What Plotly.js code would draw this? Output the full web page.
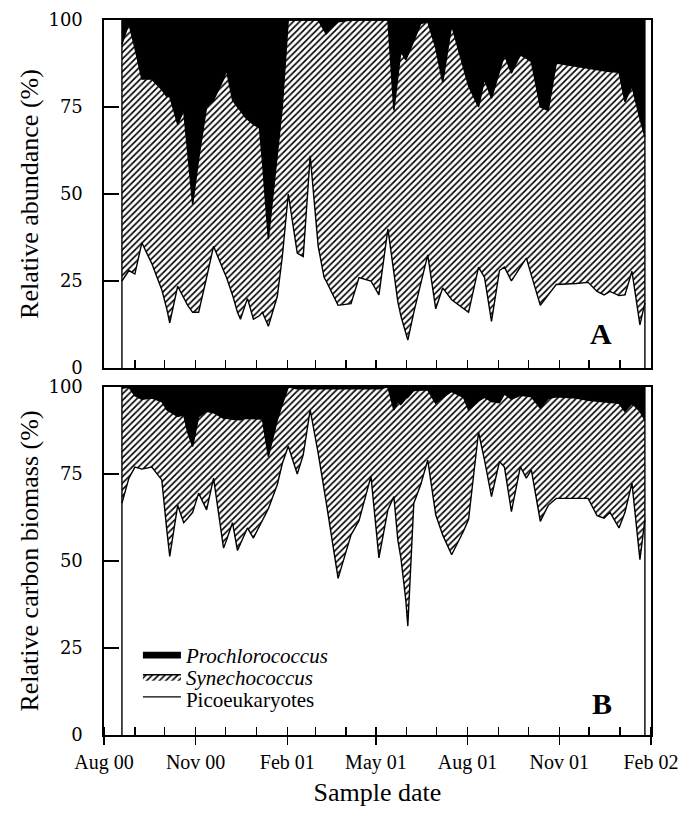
<!DOCTYPE html>
<html>
<head>
<meta charset="utf-8">
<script src="https://cdn.plot.ly/plotly-3.0.1.min.js"></script>
<style>html,body{margin:0;padding:0;background:#fff;}#chart{width:678px;height:814px;}</style>
</head>
<body>
<div id="chart"></div>
<script>
// Sample dates (shared by both panels)
const sampleDates = [
 '2000-08-19','2000-08-26','2000-09-01','2000-09-08','2000-09-18','2000-09-28','2000-10-03','2000-10-06','2000-10-14','2000-10-20',
 '2000-10-24','2000-10-29','2000-11-04','2000-11-12','2000-11-19','2000-11-29','2000-12-02','2000-12-08','2000-12-13','2000-12-16',
 '2000-12-21','2000-12-23','2000-12-29','2001-01-04','2001-01-07','2001-01-13','2001-01-22','2001-01-27','2001-02-02','2001-02-11',
 '2001-02-17','2001-02-24','2001-03-04','2001-03-10','2001-03-12','2001-03-24','2001-04-06','2001-04-14','2001-04-26','2001-05-04',
 '2001-05-13','2001-05-19','2001-05-23','2001-05-26','2001-05-31','2001-06-02','2001-06-08','2001-06-15','2001-06-22','2001-06-30',
 '2001-07-07','2001-07-16','2001-07-28','2001-08-02','2001-08-12','2001-08-18','2001-08-25','2001-09-02','2001-09-07','2001-09-14',
 '2001-09-23','2001-09-29','2001-10-04','2001-10-13','2001-10-21','2001-10-29','2001-11-18','2001-11-30','2001-12-09','2001-12-16',
 '2001-12-22','2001-12-31','2002-01-06','2002-01-13','2002-01-21','2002-01-26'
];

// Panel A: relative abundance (%)
const picoA = [25,28,27,36,30,22.5,17,13,23.5,20, 18,16,16,26,35,28,26,21,16,14, 18,20,14,15,16,12,20.6,32,50,33,
 32,61,35,26,25,18,18.5,26,25,21, 40,27,19,15,10,8,16,24,32.5,17, 23,19.6,17,16,29,26,13.4,28,29,25,
 29,31.6,26.7,18,21,24,24.3,24.6,22,21, 22,20.8,21,27.8,12.4,18.7];
const synA = [68,71,65,47,53,57.5,61,65,46.5,54, 44,31,44,49,42,55,59.6,56,59,60, 54,51.5,56,54,43.5,25,40,43,50,67,
 68,39,65,71,71,81.5,81.5,74,75,79, 60,47,64,76,78.5,82,78,75,67,75, 59,78.9,69,65,46,57,64.1,57,61,59.7,
 61,57.4,61.3,57,53,63.6,62.3,61.4,63.7,64.4, 63.2,64.2,55.5,53.2,59.2,47.8];
const proA = [7,1,8,17,17,20,22,22,30,26, 38,53,40,25,23,17,14.4,23,25,26, 28,28.5,30,31,40.5,63,39.4,25,0,0,
 0,0,0,3,4,0.5,0,0,0,0, 0,26,17,9,11.5,10,6,1,0.5,8, 18,1.5,14,19,25,17,22.5,15,10,15.3,
 10,11,12,25,26,12.4,13.4,14,14.3,14.6, 14.8,15,23.5,19,28.4,33.5];

// Panel B: relative carbon biomass (%)
const picoB = [66.6,73.8,77,76.4,77,73.3,59,51.3,66,61, 62.3,64,69.5,64.7,73.8,53.7,56,61,53,55, 58,59.5,56.6,60,62,65,72,78,83,75,
 80.5,93.4,81,71,67,45,57.5,61.6,74.3,50.9, 64.7,68.5,56,51,38.7,31.3,66.6,72,79,63.3, 57.5,51.8,58.6,62,87,79,68.5,78.6,77,64.2,
 77.1,73.8,76.2,61.4,66,68,68,68,63,62.3, 64,59.5,64,72.4,50.4,61.9];
const synB = [33,26.2,20.5,20.1,19.8,22.5,34.5,41.6,25.5,31, 24.7,18.9,22,28.3,18.8,37.3,35,29.7,37.6,35.6, 33,31.5,34.2,30.8,28.8,15,18.5,17,17,24.5,
 19,6.1,18.5,28.5,32.5,54.5,42,37.9,25.2,48.6, 35.3,24.9,39.8,44,58,65.7,32.4,27.2,20.2,32, 39.5,46.9,38.4,31.4,9,18,27.3,16.9,21,32.3,
 20.5,23.6,21,32.5,30.7,29.2,28.8,28.2,33,33.5, 31.6,35.8,28.9,22.9,42.6,28.6];
const proB = [0.4,0,2.5,3.5,3.2,4.2,6.5,7.1,8.5,8, 13,17.1,8.5,7,7.4,9,9,9.3,9.4,9.4, 9,9,9.2,9.2,9.2,20,9.5,5,0,0.5,
 0.5,0.5,0.5,0.5,0.5,0.5,0.5,0.5,0.5,0.5, 0,6.6,4.2,5,3.3,3,1,0.8,0.8,4.7, 3,1.3,3,6.6,4,3,4.2,4.5,2,3.5,
 2.4,2.6,2.8,6.1,3.3,2.8,3.2,3.8,4,4.2, 4.4,4.7,7.1,4.7,7,9.5];

const groupNames = ['Picoeukaryotes', '<i>Synechococcus</i>', '<i>Prochlorococcus</i>'];
const yTicks = [0, 25, 50, 75, 100];
const xTickDates = ['2000-08-01','2000-11-01','2001-02-01','2001-05-01','2001-08-01','2001-11-01','2002-02-01'];
const xTickLabels = ['Aug 00','Nov 00','Feb 01','May 01','Aug 01','Nov 01','Feb 02'];
const xStart = '2000-08-01', xEnd = '2002-02-01 03:00';

const SERIF = "'Liberation Serif', 'Times New Roman', 'DejaVu Serif', serif";
const WIDE_SERIF = "'DejaVu Serif', 'Liberation Serif', serif";
const hatch = {shape: '/', fgcolor: '#000', bgcolor: '#fff', size: 4.5, solidity: 0.36};

function panel(xa, ya, pico, syn, pro, withLegend) {
  const base = {x: sampleDates, xaxis: xa, yaxis: ya, mode: 'lines', stackgroup: 'stack' + ya,
    line: {color: '#000', width: 1.4}, hoverinfo: 'skip'};
  const tr = [
    Object.assign({}, base, {y: pico, name: groupNames[0], fillcolor: '#fff', showlegend: withLegend, legend: 'legend3'}),
    Object.assign({}, base, {y: syn, name: groupNames[1], fillcolor: '#fff', fillpattern: hatch, showlegend: withLegend, legend: 'legend2'}),
    Object.assign({}, base, {y: pro, name: groupNames[2], fillcolor: '#000', showlegend: withLegend, legend: 'legend'})
  ];
  const first = sampleDates[0], last = sampleDates[sampleDates.length - 1];
  tr.push({x: [first, first, null, last, last], y: [0, 100, null, 0, 100], xaxis: xa, yaxis: ya,
    mode: 'lines', line: {color: '#000', width: 1.4}, showlegend: false, hoverinfo: 'skip'});
  return tr;
}

const data = [].concat(
  panel('x', 'y', picoA, synA, proA, false),
  panel('x2', 'y2', picoB, synB, proB, true)
);

const yBase = {range: [0, 100], tickvals: yTicks, ticks: 'inside', ticklen: 15, tickwidth: 1.3, tickcolor: '#000',
  showline: true, linecolor: '#000', linewidth: 1.6, mirror: true, showgrid: false, zeroline: false,
  tickfont: {family: WIDE_SERIF, size: 18, color: '#000'}, ticklabelstandoff: 16, fixedrange: true};
const yRight = {range: [0, 100], tickvals: yTicks, ticks: 'inside', ticklen: 8, tickwidth: 1.3, tickcolor: '#000',
  showticklabels: false, showline: false, showgrid: false, zeroline: false, side: 'right'};
const xBase = {type: 'date', range: [xStart, xEnd], showline: true, linecolor: '#000', linewidth: 1.6, mirror: true,
  showgrid: false, zeroline: false, tickcolor: '#000', tickwidth: 1.3};

const legendBase = {x: 0.062, xanchor: 'left', yanchor: 'middle', bgcolor: 'rgba(0,0,0,0)', borderwidth: 0,
  font: {family: SERIF, size: 21, color: '#000'}, itemwidth: 38, itemclick: false, itemdoubleclick: false};
const titleFont = {family: SERIF, size: 26, color: '#000'};

const layout = {
  width: 678, height: 814,
  margin: {l: 104, r: 27, t: 20, b: 79},
  paper_bgcolor: '#fff', plot_bgcolor: '#fff',
  showlegend: true,
  xaxis: Object.assign({}, xBase, {anchor: 'y', ticks: 'inside', tick0: xStart, dtick: 'M1', ticklen: 8, showticklabels: false}),
  yaxis: Object.assign({}, yBase, {domain: [0.5133, 1],
    title: {text: 'Relative abundance (%)', font: titleFont, standoff: 2}}),
  xaxis2: Object.assign({}, xBase, {anchor: 'y2', ticks: 'outside', tickmode: 'array', tickvals: xTickDates, ticktext: xTickLabels,
    ticklen: 8, tickfont: {family: SERIF, size: 20, color: '#000'}, ticklabeloverflow: 'allow',
    minor: {ticks: 'inside', tickmode: 'linear', tick0: xStart, dtick: 'M1', ticklen: 8, tickcolor: '#000', tickwidth: 1.3},
    title: {text: 'Sample date', font: titleFont, standoff: 10}}),
  yaxis2: Object.assign({}, yBase, {domain: [0, 0.4867],
    title: {text: 'Relative carbon biomass (%)', font: titleFont, standoff: 2}}),
  yaxis3: Object.assign({}, yRight, {overlaying: 'y', anchor: 'x'}),
  yaxis4: Object.assign({}, yRight, {overlaying: 'y2', anchor: 'x2'}),
  legend: Object.assign({}, legendBase, {y: 0.112}),
  legend2: Object.assign({}, legendBase, {y: 0.081}),
  legend3: Object.assign({}, legendBase, {y: 0.050}),
  annotations: [
    {text: '<b>A</b>', xref: 'paper', yref: 'y', x: 0.933, y: 10, showarrow: false,
     font: {family: SERIF, size: 30, color: '#000'}},
    {text: '<b>B</b>', xref: 'paper', yref: 'y2', x: 0.933, y: 9, showarrow: false,
     font: {family: SERIF, size: 30, color: '#000'}}
  ]
};

Plotly.newPlot('chart', data, layout, {staticPlot: true, displayModeBar: false});
</script>
</body>
</html>
